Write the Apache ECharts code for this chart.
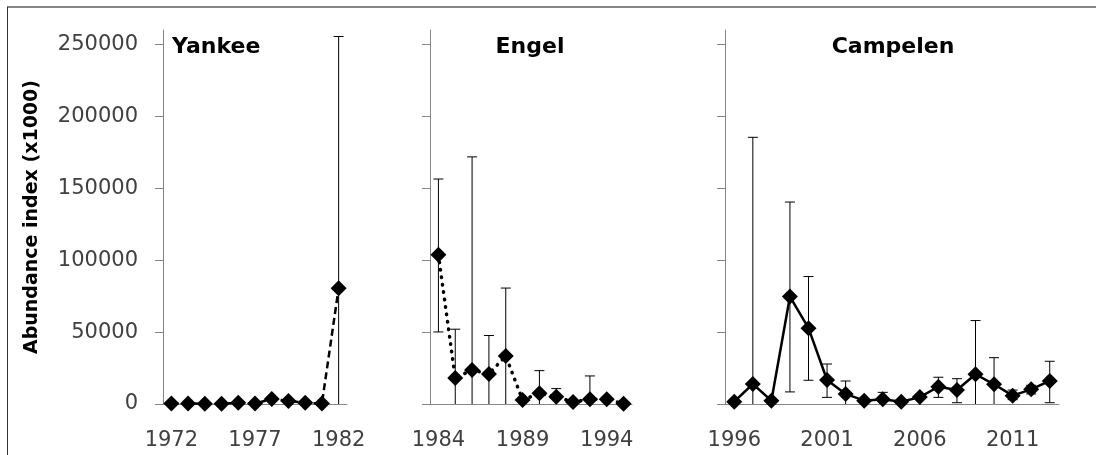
<!DOCTYPE html>
<html lang="en">
<head>
    <meta charset="UTF-8">
    <title>Abundance index</title>
    <style>
        html, body { margin: 0; padding: 0; background: #fff; }
        #main { width: 1096px; height: 455px; }
    </style>
</head>
<body>
    <div id="main"></div>
    <script src="https://cdn.jsdelivr.net/npm/echarts@6/dist/echarts.min.js"></script>
    <script>
        // survey data (x1000)
        var yankeeYears = ['1972', '1973', '1974', '1975', '1976', '1977', '1978', '1979', '1980', '1981', '1982'];
        var yankeeValues = [300, 300, 200, 200, 900, 300, 3500, 2100, 900, 300, 80500];
        var yankeeLow = [null, null, null, null, null, null, null, null, null, null, 0];
        var yankeeHigh = [null, null, null, null, null, null, null, null, null, null, 255500];

        var engelYears = ['1984', '1985', '1986', '1987', '1988', '1989', '1990', '1991', '1992', '1993', '1994', '1995'];
        var engelValues = [103800, 18100, 23700, 20900, 33400, 2800, 7400, 5100, 1400, 3300, 3300, 200];
        var engelLow = [50100, 0, 0, 0, 0, null, 0, 0, null, 0, null, null];
        var engelHigh = [156400, 52000, 171800, 47600, 80600, null, 23200, 10700, null, 19500, null, null];

        var campelenYears = ['1996', '1997', '1998', '1999', '2000', '2001', '2002', '2003', '2004',
            '2005', '2006', '2007', '2008', '2009', '2010', '2011', '2012', '2013'];
        var campelenValues = [1600, 13900, 2300, 74700, 52700, 16700, 7000, 2300, 3300,
            1600, 4800, 12000, 9700, 20700, 13700, 5800, 10200, 16000];
        var campelenLow = [null, 0, null, 8400, 16500, 4600, 0, null, 0,
            null, null, 4600, 900, 0, 0, 3000, 7000, 900];
        var campelenHigh = [null, 185400, null, 140400, 88600, 27800, 16000, null, 8100,
            null, null, 18600, 17600, 58000, 32200, 9700, 13000, 29700];

        var yTicks = [0, 50000, 100000, 150000, 200000, 250000];

        var axisGray = '#868686';
        var font = 'DejaVu Sans';

        function errData(low, high) {
            var out = [];
            for (var i = 0; i < low.length; i++) {
                if (low[i] !== null) out.push([i, low[i], high[i]]);
            }
            return out;
        }

        function renderErr(params, api) {
            var lo = api.coord([api.value(0), api.value(1)]);
            var hi = api.coord([api.value(0), api.value(2)]);
            var w = 5;
            var st = { stroke: '#000', lineWidth: 1 };
            var kids = [
                { type: 'line', shape: { x1: lo[0], y1: lo[1], x2: hi[0], y2: hi[1] }, style: st },
                { type: 'line', shape: { x1: hi[0] - w, y1: hi[1], x2: hi[0] + w, y2: hi[1] }, style: st }
            ];
            if (api.value(1) > 0) {
                kids.push({ type: 'line', shape: { x1: lo[0] - w, y1: lo[1], x2: lo[0] + w, y2: lo[1] }, style: st });
            }
            return { type: 'group', children: kids };
        }

        function xAxisFor(idx, years) {
            return {
                type: 'category',
                gridIndex: idx,
                data: years,
                boundaryGap: true,
                axisLine: { lineStyle: { color: axisGray, width: 1 } },
                axisTick: { interval: 0, length: 9, lineStyle: { color: axisGray } },
                axisLabel: { interval: 4, margin: 26, color: '#404040', fontFamily: font, fontSize: 21 },
                splitLine: { show: false }
            };
        }

        function yAxisFor(idx, showLabels) {
            var ax = {
                type: 'value',
                gridIndex: idx,
                min: 0,
                max: 260000,
                interval: 50000,
                axisLine: { show: true, lineStyle: { color: axisGray, width: 1 } },
                axisTick: { show: true, length: 8, customValues: yTicks, lineStyle: { color: axisGray } },
                axisLabel: {
                    show: showLabels, customValues: yTicks, margin: 25, color: '#404040',
                    fontFamily: font, fontSize: 21,
                    formatter: function (v) { return String(v); }
                },
                splitLine: { show: false }
            };
            if (showLabels) {
                ax.name = 'Abundance index (x1000)';
                ax.nameLocation = 'middle';
                ax.nameGap = 121;
                ax.nameTextStyle = { fontFamily: font, fontWeight: 'bold', fontSize: 19, color: '#000' };
            }
            return ax;
        }

        function lineFor(idx, values, lineStyle) {
            return {
                type: 'line',
                xAxisIndex: idx,
                yAxisIndex: idx,
                data: values,
                symbol: 'diamond',
                symbolSize: [16, 16],
                showSymbol: true,
                showAllSymbol: true,
                itemStyle: { color: '#000' },
                lineStyle: lineStyle,
                z: 3,
                animation: false
            };
        }

        function errFor(idx, low, high) {
            return {
                type: 'custom',
                xAxisIndex: idx,
                yAxisIndex: idx,
                data: errData(low, high),
                renderItem: renderErr,
                z: 2,
                animation: false
            };
        }

        var chart = echarts.init(document.getElementById('main'));

        var option = {
            backgroundColor: '#fff',
            animation: false,
            grid: [
                { left: 163, top: 30, width: 184, height: 374, outerBoundsMode: 'none' },
                { left: 430, top: 30, width: 202, height: 374, outerBoundsMode: 'none' },
                { left: 725, top: 30, width: 334, height: 374, outerBoundsMode: 'none' }
            ],
            xAxis: [
                xAxisFor(0, yankeeYears),
                xAxisFor(1, engelYears),
                xAxisFor(2, campelenYears)
            ],
            yAxis: [
                yAxisFor(0, true),
                yAxisFor(1, false),
                yAxisFor(2, false)
            ],
            graphic: [
                { type: 'line', shape: { x1: 7, y1: 7, x2: 1096, y2: 7 }, style: { stroke: '#868686', lineWidth: 2 } },
                { type: 'line', shape: { x1: 7.5, y1: 7, x2: 7.5, y2: 455 }, style: { stroke: '#333', lineWidth: 1 } },
                { type: 'text', style: { x: 172, y: 47, text: 'Yankee', textAlign: 'left', textVerticalAlign: 'middle', fontFamily: font, fontWeight: 'bold', fontSize: 22, fill: '#000' } },
                { type: 'text', style: { x: 530, y: 47, text: 'Engel', textAlign: 'center', textVerticalAlign: 'middle', fontFamily: font, fontWeight: 'bold', fontSize: 22, fill: '#000' } },
                { type: 'text', style: { x: 893, y: 47, text: 'Campelen', textAlign: 'center', textVerticalAlign: 'middle', fontFamily: font, fontWeight: 'bold', fontSize: 22, fill: '#000' } }
            ],
            series: [
                errFor(0, yankeeLow, yankeeHigh),
                lineFor(0, yankeeValues, { color: '#000', width: 2.5, type: [7, 4] }),
                errFor(1, engelLow, engelHigh),
                lineFor(1, engelValues, { color: '#000', width: 3.5, type: [0.5, 7], cap: 'round' }),
                errFor(2, campelenLow, campelenHigh),
                lineFor(2, campelenValues, { color: '#000', width: 2.5, type: 'solid' })
            ]
        };

        chart.setOption(option);
    </script>
</body>
</html>
